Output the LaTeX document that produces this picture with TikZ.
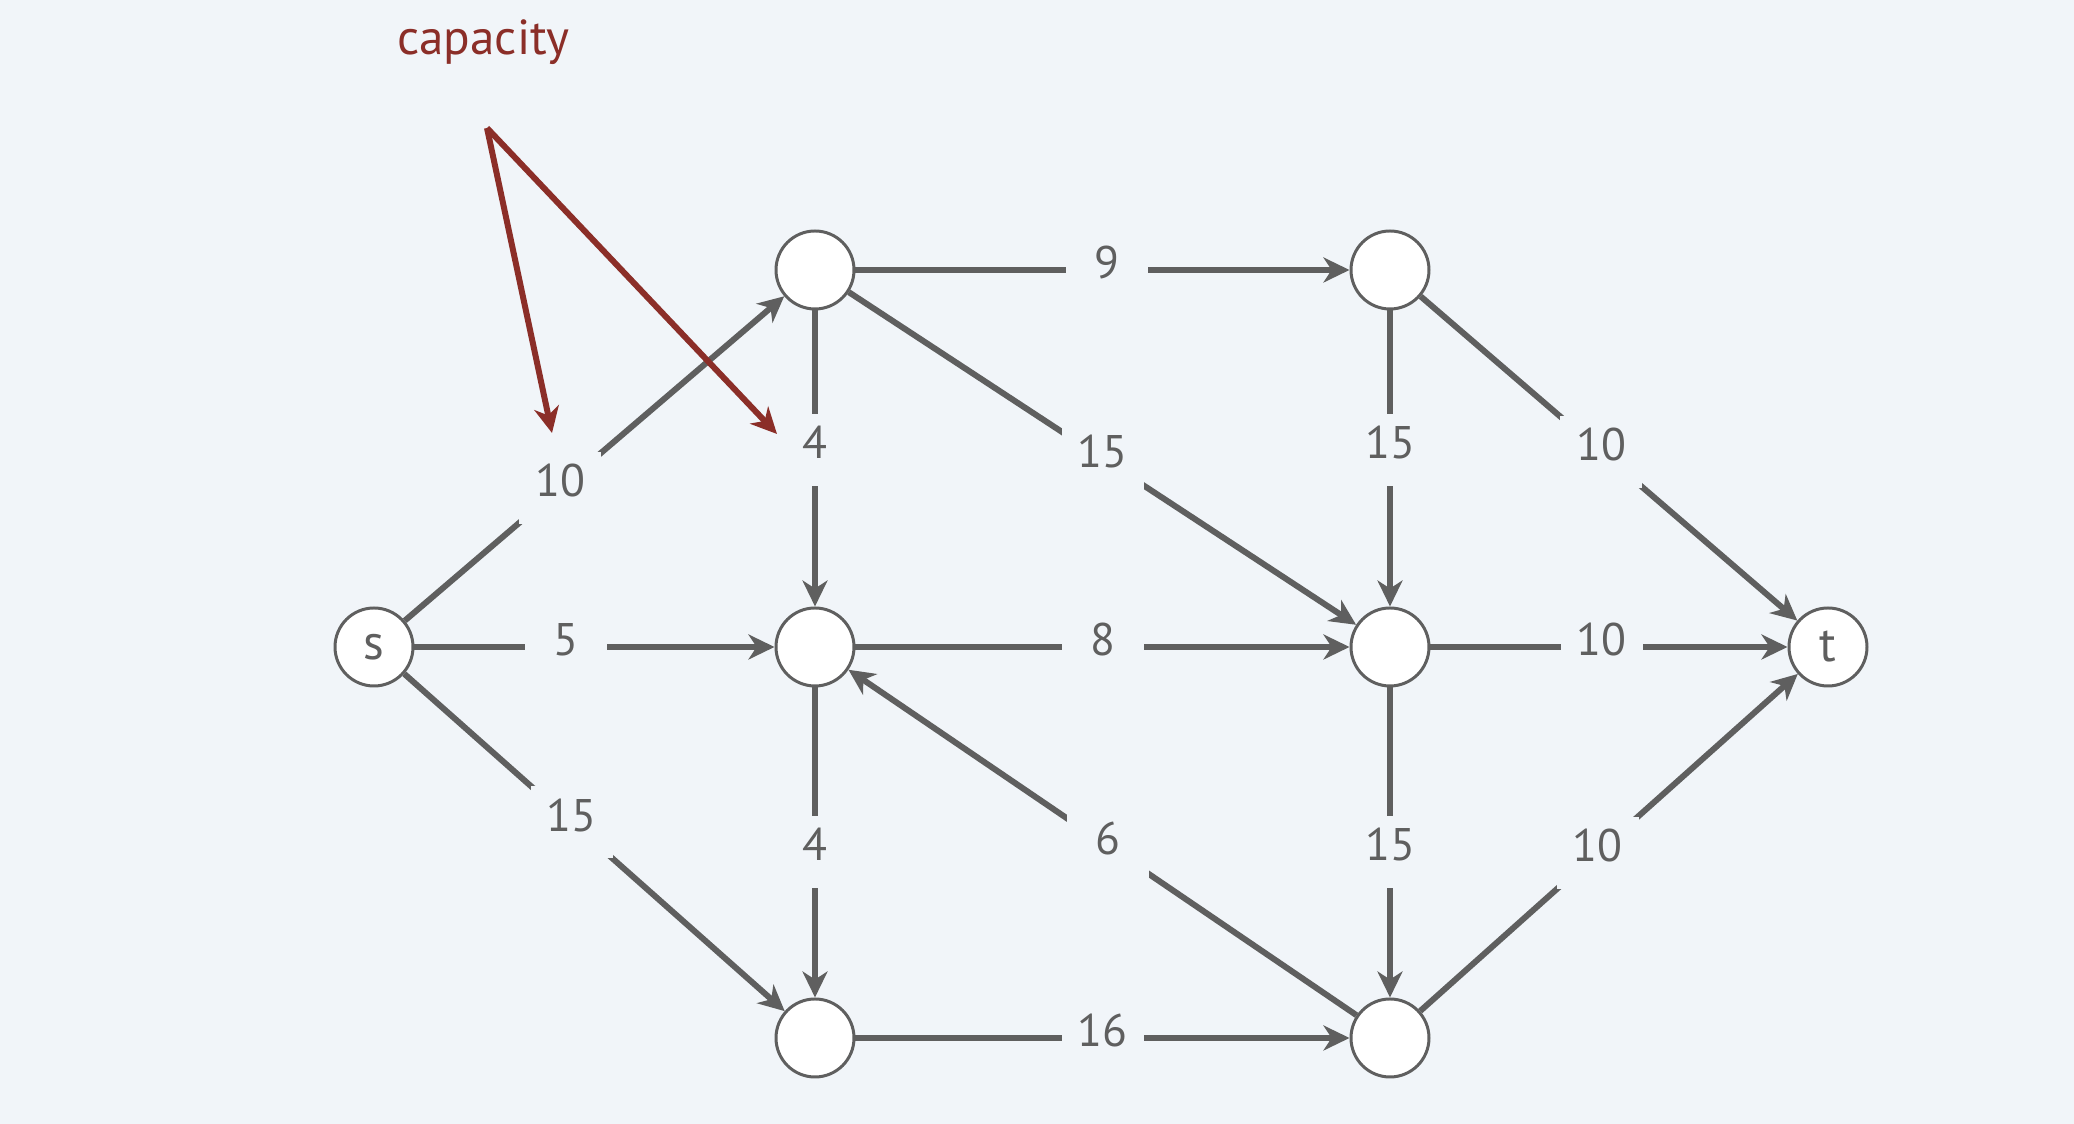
\documentclass[tikz,border=0pt]{standalone}
\usepackage{fontspec}
\setmainfont{PT Sans}
\usepackage{tikz}
\usetikzlibrary{arrows.meta}
\tikzset{>=Stealth}
\definecolor{slidebg}{RGB}{241,245,249}
\definecolor{edgegray}{RGB}{95,95,95}
\definecolor{notered}{RGB}{139,46,40}
\tikzset{
    vertex/.style={circle,draw=edgegray,line width=0.85pt,fill=white,
        minimum size=0.78cm,inner sep=0pt,text=edgegray,
        font=\fontsize{14}{16}\selectfont},
    caplabel/.style={fill=slidebg,minimum width=0.82cm,minimum height=0.72cm,
        inner sep=0pt,text depth=0.15cm,text=edgegray,font=\fontsize{13}{15}\selectfont},
    flow/.style={color=edgegray,line width=1.7pt,
        ->,>={Stealth[length=7.4pt,width=7.1pt,inset=2.3pt]}}
}

\begin{document}
\begin{tikzpicture}[]
    \fill[slidebg] (0,0) rectangle (20.74,-11.24);
    \useasboundingbox (0,0) rectangle (20.74,-11.24);
    \node[vertex] at (3.74,-6.47) (s) {s};
    \node[vertex] at (8.15,-2.70) (a) {};
    \node[vertex] at (8.15,-6.47) (b) {};
    \node[vertex] at (8.15,-10.38) (c) {};
    \node[vertex] at (13.90,-2.70) (d) {};
    \node[vertex] at (13.90,-6.47) (e) {};
    \node[vertex] at (13.90,-10.38) (f) {};
    \node[vertex] at (18.28,-6.47) (t) {t};
    \path[flow]
    (s) edge node[caplabel,pos=0.41] {10} (a)
    (s) edge node[caplabel,pos=0.42] {5} (b)
    (s) edge node[caplabel,pos=0.44] {15} (c)
    (a) edge node[caplabel,pos=0.47] {4} (b)
    (b) edge node[caplabel,pos=0.53] {4} (c)
    (a) edge node[caplabel,pos=0.51] {9} (d)
    (a) edge node[caplabel,pos=0.50] {15} (e)
    (b) edge node[caplabel,pos=0.50] {8} (e)
    (f) edge node[caplabel,pos=0.49] {6} (b)
    (c) edge node[caplabel,pos=0.50] {16} (f)
    (d) edge node[caplabel,pos=0.47] {15} (e)
    (e) edge node[caplabel,pos=0.53] {15} (f)
    (d) edge node[caplabel,pos=0.48] {10} (t)
    (e) edge node[caplabel,pos=0.48] {10} (t)
    (f) edge node[caplabel,pos=0.47] {10} (t)
    ;
    % pointer to the capacities
    \node[anchor=base,text=notered,font=\fontsize{14}{16}\selectfont] at (4.835,-0.55) (note) {capacity};
    \coordinate (apex) at (4.87,-1.28);
    \coordinate (tipten) at (5.52,-4.33);
    \coordinate (tipfour) at (7.77,-4.34);
    \path[flow,color=notered]
    (apex) edge (tipten)
    (apex) edge (tipfour)
    ;
\end{tikzpicture}
\end{document}
